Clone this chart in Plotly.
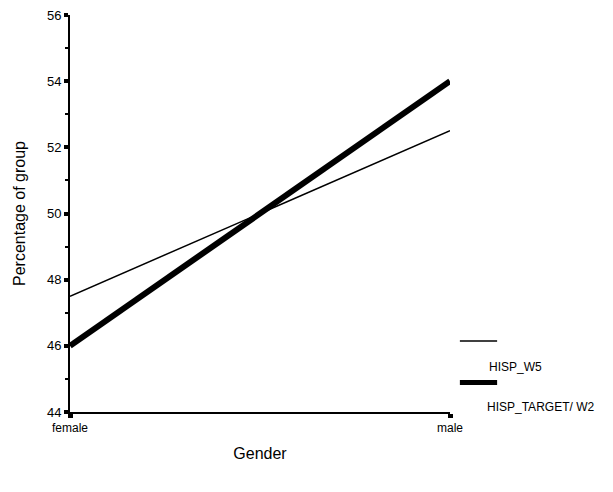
import plotly.graph_objects as go

categories = ["female", "male"]
series_names = ["HISP_W5", "HISP_TARGET/ W2"]
hisp_w5 = [47.5, 52.5]
hisp_target_w2 = [46.0, 54.0]
y_ticks = [44, 46, 48, 50, 52, 54, 56]

x_pos = list(range(len(categories)))
font = "Liberation Sans, Arial, sans-serif"

fig = go.Figure()
fig.add_trace(go.Scatter(x=x_pos, y=hisp_w5, mode="lines", name=series_names[0],
                         line=dict(color="black", width=1.5), showlegend=False))
fig.add_trace(go.Scatter(x=x_pos, y=hisp_target_w2, mode="lines", name=series_names[1],
                         line=dict(color="black", width=6), showlegend=False))

fig.update_layout(
    width=613, height=492,
    margin=dict(l=70, r=163, t=15, b=80),
    plot_bgcolor="white", paper_bgcolor="white",
    font=dict(family=font, color="black", size=12),
    xaxis=dict(range=[0, 1], tickvals=x_pos, ticktext=categories, automargin=False,
               showgrid=False, zeroline=False, showline=True, linecolor="black", linewidth=2,
               ticks="outside", ticklen=4, tickwidth=5, tickcolor="black",
               tickfont=dict(size=12, family=font),
               title=dict(text="Gender", font=dict(size=16, family=font), standoff=13)),
    yaxis=dict(range=[44, 56], tickvals=y_ticks, automargin=False,
               showgrid=False, zeroline=False, showline=True, linecolor="black", linewidth=2,
               ticks="outside", ticklen=4, tickwidth=4, tickcolor="black",
               minor=dict(dtick=1, ticks="outside", ticklen=3, tickwidth=1.5, tickcolor="black"),
               tickfont=dict(size=13, family=font),
               title=dict(text="Percentage of group", font=dict(size=16, family=font), standoff=17)),
)

# legend drawn manually: sample above, label below
fig.add_shape(type="line", xref="paper", yref="paper", x0=1.026, x1=1.124, y0=0.179, y1=0.179,
              line=dict(color="black", width=1.5))
fig.add_shape(type="line", xref="paper", yref="paper", x0=1.026, x1=1.124, y0=0.074, y1=0.074,
              line=dict(color="black", width=5))
fig.add_annotation(xref="paper", yref="paper", x=1.098, y=0.113, text=series_names[0],
                   showarrow=False, xanchor="left", yanchor="middle", font=dict(size=12, family=font))
fig.add_annotation(xref="paper", yref="paper", x=1.092, y=0.013, text=series_names[1],
                   showarrow=False, xanchor="left", yanchor="middle", font=dict(size=12, family=font))

fig.write_html("out.html", config={"displayModeBar": False},
               post_script="document.body.style.margin='0px';")
